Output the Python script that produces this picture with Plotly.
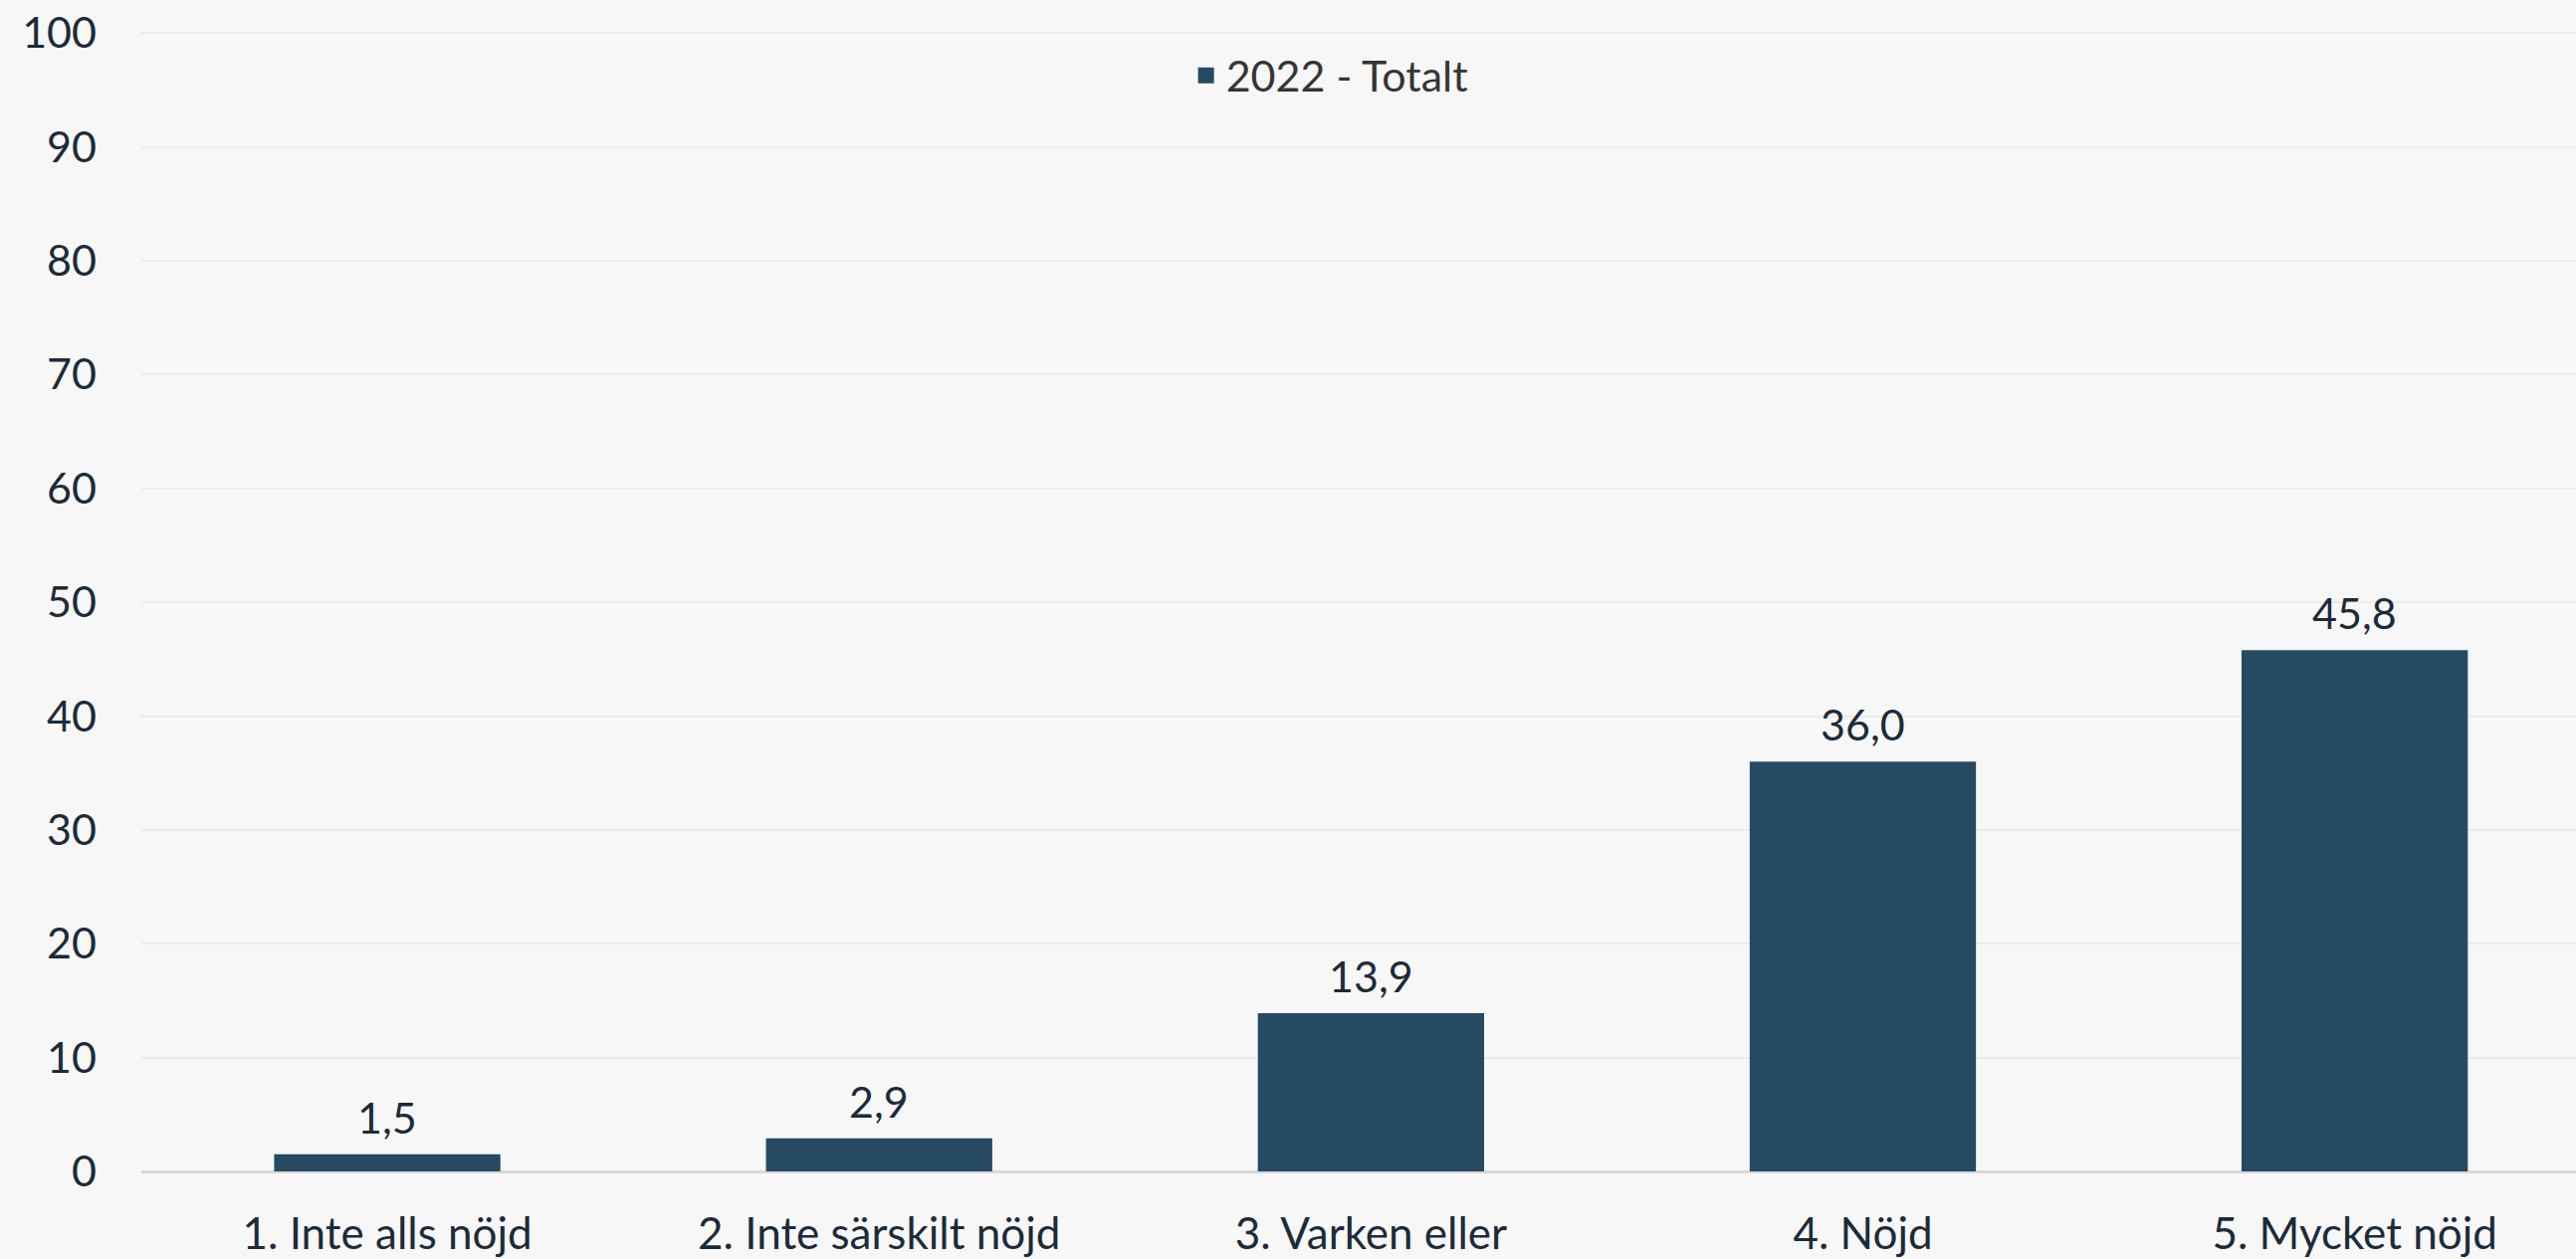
import plotly.graph_objects as go

categories = ["1. Inte alls nöjd", "2. Inte särskilt nöjd", "3. Varken eller", "4. Nöjd", "5. Mycket nöjd"]
values_2022 = [1.5, 2.9, 13.9, 36.0, 45.8]
series_name = "2022 - Totalt"
y_ticks = [0, 10, 20, 30, 40, 50, 60, 70, 80, 90, 100]

BAR = "#274a63"
TXT = "#1c2b3a"
FONT = "Lato"
BG = "#f7f7f7"

fig = go.Figure()
fig.add_trace(go.Bar(
    x=categories, y=values_2022, name=series_name, showlegend=False,
    marker=dict(color=BAR, line=dict(width=0)),
))
# legend entry with a larger square swatch
fig.add_trace(go.Scatter(
    x=[None], y=[None], mode="markers", name=series_name,
    marker=dict(symbol="square", size=26, color=BAR), showlegend=True,
))

for c, v in zip(categories, values_2022):
    fig.add_annotation(x=c, y=v, text=f"{v:.1f}".replace(".", ","), showarrow=False,
                       yanchor="bottom", yshift=10,
                       font=dict(family=FONT, size=43, color=TXT))

fig.update_layout(
    width=2588, height=1265,
    margin=dict(l=142, r=0, t=31, b=88),
    paper_bgcolor=BG, plot_bgcolor=BG,
    separators=", ",
    bargap=0.54,
    showlegend=True,
    legend=dict(orientation="h", x=0.488, xanchor="center", y=0.961, yanchor="middle",
                font=dict(family=FONT, size=43, color="#353535"), bgcolor="rgba(0,0,0,0)"),
    font=dict(family=FONT, size=43, color=TXT),
)
fig.update_xaxes(range=[-0.5, 4.45], showgrid=False, showline=False, zeroline=False,
                 ticks="", tickfont=dict(family=FONT, size=44, color=TXT),
                 ticklabelstandoff=33, fixedrange=True)
fig.update_yaxes(range=[0, 100.2], tickvals=y_ticks, showgrid=True, gridcolor="#ebebeb", gridwidth=2,
                 zeroline=True, zerolinecolor="#d9d9d9", zerolinewidth=3, showline=False,
                 ticks="", tickfont=dict(family=FONT, size=43, color=TXT),
                 ticklabelstandoff=44, ticklabeloverflow="allow", fixedrange=True)

fig.write_html("out.html", config={"displayModeBar": False},
               post_script="document.body.style.margin='0';document.body.style.background='%s';" % BG)
